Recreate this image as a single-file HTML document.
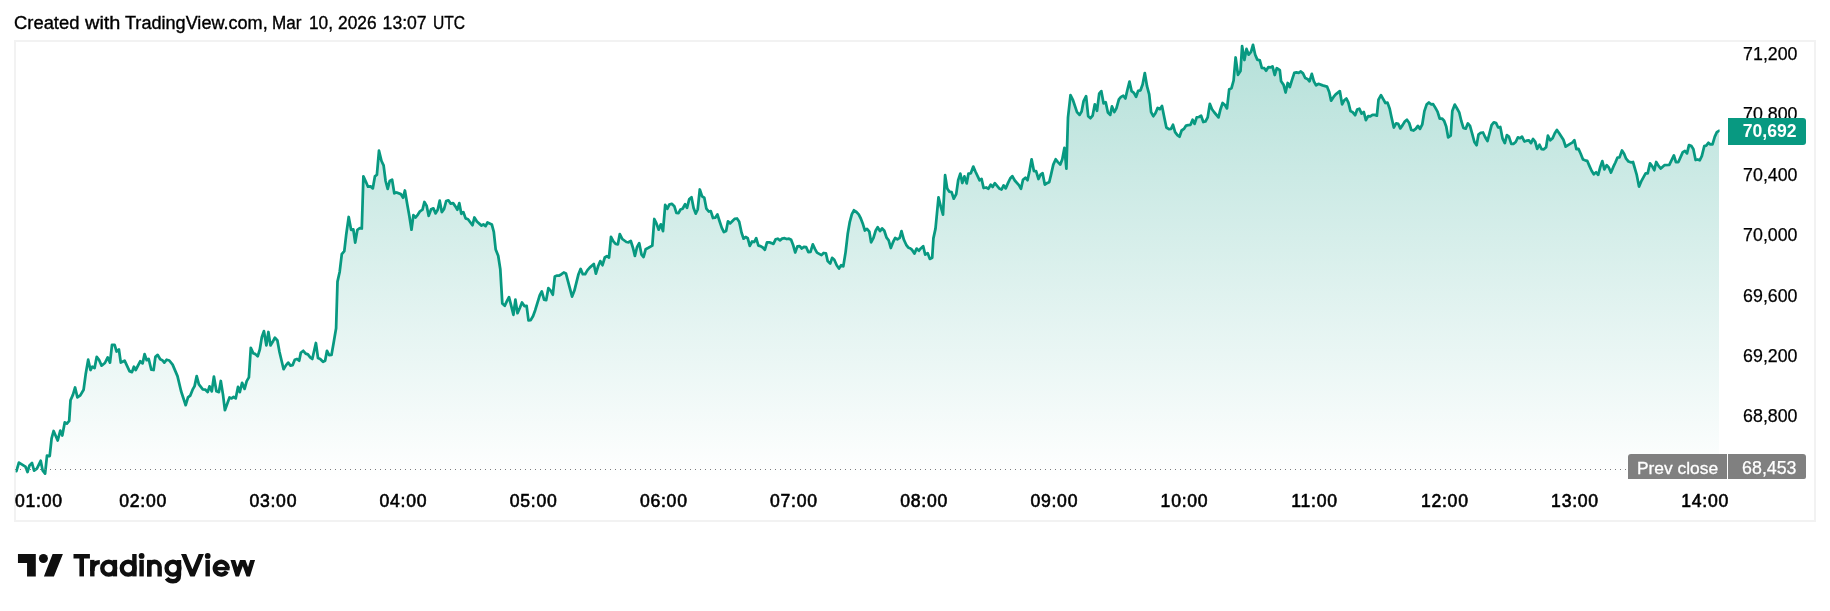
<!DOCTYPE html>
<html><head><meta charset="utf-8"><title>Chart</title>
<style>
html,body{margin:0;padding:0;background:#fff;}
body{width:1830px;height:611px;position:relative;overflow:hidden;font-family:"Liberation Sans",sans-serif;color:#131722;}
#hdr{filter:grayscale(1);position:absolute;left:0;top:12px;font-size:17.6px;line-height:22px;white-space:nowrap;color:#000;}
#hdr span{position:absolute;top:0;transform-origin:0 0;white-space:nowrap;-webkit-text-stroke:0.35px #000;}
#box{position:absolute;left:14px;top:40px;width:1798px;height:478px;border:2px solid #f2f2f2;}
svg#ch{position:absolute;left:0;top:0;}
.pl{-webkit-text-stroke:0.25px #000;filter:grayscale(1);position:absolute;left:1728.5px;width:69px;text-align:right;font-size:17.8px;line-height:24px;height:24px;white-space:nowrap;color:#000;}
.tl{filter:grayscale(1);position:absolute;top:489px;width:80px;margin-left:-40px;text-align:center;font-size:17.6px;font-weight:normal;-webkit-text-stroke:0.6px #000;line-height:24px;white-space:nowrap;color:#000;letter-spacing:0.75px;}
#cur{position:absolute;left:1728px;top:118px;width:78px;height:27px;background:#089981;border-radius:2px;color:#fff;font-weight:bold;font-size:17.6px;line-height:26px;text-align:right;box-sizing:border-box;padding-right:9.5px;border-radius:0 3px 3px 0;}
#pc1{position:absolute;left:1628px;top:454px;width:99px;height:25px;background:#808080;border-radius:3px 0 0 0;color:#fff;font-size:17.4px;line-height:28px;-webkit-text-stroke:0.3px #fff;text-align:center;white-space:nowrap;}
#pc2{position:absolute;left:1728px;top:454px;width:78px;height:25px;background:#808080;border-radius:0 3px 2px 0;color:#fff;font-size:17.8px;line-height:28px;-webkit-text-stroke:0.25px #fff;text-align:right;box-sizing:border-box;padding-right:9.5px;}
.g{display:inline-block;filter:grayscale(1);}
#logotxt{position:absolute;left:72px;top:547px;font-size:30px;font-weight:bold;line-height:36px;letter-spacing:0.2px;color:#131722;white-space:nowrap;}
</style></head><body>
<div id="hdr"><span style="left:14.46px;transform:scaleX(1.0450)">Created</span><span style="left:85.10px;transform:scaleX(1.1333)">with</span><span style="left:125.40px;transform:scaleX(1.0277)">TradingView.com,</span><span style="left:272.43px;transform:scaleX(0.9724)">Mar</span><span style="left:309.22px;transform:scaleX(0.9818)">10,</span><span style="left:338.32px;transform:scaleX(0.9838)">2026</span><span style="left:382.60px;transform:scaleX(1.0000)">13:07</span><span style="left:432.51px;transform:scaleX(0.8882)">UTC</span></div>
<div id="box"></div>
<svg id="ch" width="1830" height="611" viewBox="0 0 1830 611">
<defs><clipPath id="lc"><rect x="15.6" y="40" width="1704" height="445"/></clipPath><linearGradient id="g" gradientUnits="userSpaceOnUse" x1="0" y1="42" x2="0" y2="481">
<stop offset="0" stop-color="#089981" stop-opacity="0.30"/><stop offset="1" stop-color="#089981" stop-opacity="0"/></linearGradient></defs>
<path d="M16.4,471.1 L18.9,462.6 L25.4,466.6 L27.5,472.0 L29.5,465.4 L32.0,463.0 L34.1,470.7 L36.9,468.7 L40.7,460.8 L42.6,470.3 L45.1,473.6 L47.0,455.6 L49.7,456.1 L51.6,438.4 L53.6,431.0 L57.7,440.5 L60.3,430.7 L62.3,435.6 L64.8,422.3 L66.9,423.6 L69.2,420.8 L70.5,400.3 L73.0,394.6 L75.1,387.5 L77.4,397.4 L80.3,395.4 L83.6,389.7 L85.7,374.1 L88.2,359.7 L90.5,370.0 L92.3,366.7 L94.6,368.0 L96.7,356.9 L99.2,360.2 L101.6,365.6 L104.9,363.0 L107.7,357.4 L110.0,362.6 L112.0,344.9 L114.6,344.9 L116.6,351.5 L118.9,349.5 L120.8,362.6 L124.6,360.7 L129.5,371.1 L132.0,372.1 L133.9,366.7 L135.7,370.0 L140.2,361.3 L142.6,363.4 L144.6,354.1 L146.7,360.2 L148.7,359.0 L151.3,369.7 L153.6,370.0 L155.4,356.9 L157.7,354.9 L160.2,359.3 L162.3,360.2 L164.3,362.6 L166.7,359.7 L169.3,360.5 L172.6,364.6 L177.5,376.1 L181.1,391.3 L185.7,405.2 L188.0,397.4 L190.2,395.7 L192.6,389.7 L194.6,386.1 L196.7,376.1 L198.9,384.4 L202.8,389.3 L205.4,389.7 L207.7,392.1 L209.5,386.4 L211.8,391.3 L213.9,376.6 L216.4,391.3 L218.9,392.1 L220.8,381.0 L223.0,394.6 L224.9,410.2 L229.5,397.5 L231.6,398.4 L233.6,397.0 L235.7,398.4 L238.0,386.9 L239.8,392.1 L242.1,382.8 L244.6,388.9 L246.7,381.1 L248.9,377.4 L250.8,347.9 L253.3,353.3 L255.4,354.1 L257.7,356.4 L259.8,349.5 L261.8,337.2 L263.9,331.1 L266.4,345.4 L268.4,332.0 L270.5,345.4 L272.6,342.1 L274.9,337.7 L277.4,340.5 L279.5,352.0 L283.6,369.2 L286.1,365.1 L288.2,362.6 L290.5,365.6 L292.6,365.1 L294.8,359.8 L297.0,359.0 L299.2,360.7 L300.8,352.8 L303.3,350.8 L305.7,353.6 L307.9,354.4 L310.2,357.4 L312.3,359.0 L315.9,343.0 L318.0,358.0 L320.2,359.0 L323.0,361.8 L325.1,360.7 L327.0,350.8 L329.2,355.2 L331.5,354.9 L333.6,343.0 L336.1,328.2 L337.5,281.6 L339.7,271.7 L341.8,254.2 L344.3,251.2 L346.2,234.8 L348.7,217.0 L351.1,229.8 L353.3,229.3 L355.2,242.6 L357.4,229.8 L359.8,228.2 L361.8,228.5 L363.4,176.4 L365.9,181.8 L368.0,186.7 L370.5,186.4 L372.8,188.4 L374.9,176.4 L376.9,174.8 L379.0,150.7 L381.5,161.0 L383.6,165.4 L385.6,181.0 L387.7,188.9 L389.7,181.0 L392.1,179.7 L394.3,193.3 L396.7,192.5 L400.8,194.1 L403.1,197.7 L404.9,190.5 L407.2,203.9 L409.3,215.7 L411.5,229.7 L413.4,215.1 L415.6,217.5 L417.9,214.6 L420.0,211.3 L422.5,209.7 L424.4,202.0 L426.6,205.6 L428.7,215.9 L431.1,209.3 L433.4,208.4 L435.6,213.4 L437.7,209.7 L439.7,200.7 L441.8,212.1 L444.1,208.9 L446.2,201.0 L448.4,200.3 L450.7,203.6 L453.1,203.1 L455.2,206.1 L457.4,209.7 L459.3,203.1 L461.3,213.8 L463.4,212.1 L465.6,218.4 L468.0,219.2 L472.5,225.2 L474.4,217.5 L476.9,221.5 L481.5,225.6 L483.4,224.4 L485.6,226.1 L487.5,222.5 L491.8,224.4 L493.8,231.8 L495.7,249.6 L498.2,255.8 L500.3,269.3 L502.3,303.4 L504.8,305.7 L506.9,301.2 L509.0,297.1 L511.3,306.1 L513.4,314.8 L515.4,299.6 L517.5,313.2 L519.7,308.3 L522.0,302.5 L524.4,306.1 L526.6,305.8 L528.5,320.4 L530.7,320.1 L533.1,316.0 L535.2,310.2 L539.7,295.5 L541.8,291.4 L544.1,299.6 L546.2,300.1 L548.4,288.1 L550.7,290.6 L552.8,294.7 L554.8,276.6 L557.2,275.5 L559.3,275.5 L561.5,274.2 L563.8,272.5 L565.9,273.4 L572.1,296.6 L574.4,290.6 L578.5,274.2 L580.7,268.9 L582.8,274.2 L585.1,274.2 L587.5,270.1 L589.7,267.6 L593.8,264.0 L595.9,273.7 L598.2,266.0 L600.3,261.1 L602.5,265.2 L604.8,257.5 L606.9,256.1 L609.0,257.5 L611.0,236.8 L613.4,241.4 L615.6,243.9 L617.9,244.3 L619.8,234.1 L622.3,239.0 L626.4,242.0 L628.5,242.3 L630.8,241.0 L633.0,248.0 L634.9,255.9 L637.0,247.2 L639.2,243.1 L641.5,254.6 L643.6,257.0 L645.7,249.2 L648.0,248.0 L652.3,245.6 L654.3,219.0 L656.4,223.4 L658.7,229.7 L660.8,224.3 L663.0,231.1 L665.2,204.9 L667.4,208.7 L669.3,204.6 L671.8,203.8 L674.3,206.2 L676.4,212.8 L678.5,213.1 L680.5,209.5 L682.6,208.7 L685.1,204.3 L687.0,207.9 L689.2,199.3 L691.5,197.2 L693.6,207.9 L695.7,213.6 L697.7,209.5 L699.8,189.5 L702.1,196.4 L704.3,197.7 L706.4,208.7 L708.7,211.5 L710.8,211.1 L713.0,218.0 L715.2,217.7 L717.4,214.4 L719.5,221.0 L721.8,227.9 L723.9,232.1 L726.1,231.1 L728.0,221.3 L730.2,223.4 L732.5,221.0 L734.6,218.9 L737.0,218.5 L739.2,221.8 L741.5,232.5 L743.6,238.7 L745.7,237.0 L747.7,238.2 L749.8,245.9 L752.1,241.5 L754.3,242.0 L756.2,238.2 L758.4,245.6 L760.5,246.1 L762.8,247.5 L764.9,249.7 L767.0,242.3 L769.3,242.3 L771.5,243.1 L773.4,243.9 L775.6,239.3 L777.7,238.7 L780.0,240.3 L782.1,238.7 L784.6,238.2 L786.7,239.0 L789.0,238.7 L791.1,239.8 L793.3,245.6 L795.2,252.5 L797.4,246.4 L799.7,246.1 L801.8,248.5 L803.9,246.9 L806.2,247.2 L808.4,252.1 L810.5,251.8 L812.8,244.3 L814.9,248.9 L817.0,252.6 L821.5,255.1 L823.6,253.0 L825.9,253.3 L827.7,261.1 L830.2,263.6 L832.1,257.9 L834.3,259.8 L836.7,265.2 L839.0,268.5 L841.1,265.2 L843.3,266.4 L845.6,252.1 L847.7,234.1 L849.8,221.8 L851.8,214.4 L853.9,210.3 L856.4,212.0 L858.7,214.4 L860.8,218.5 L863.0,224.3 L864.9,230.5 L867.0,228.9 L869.3,231.6 L871.1,242.3 L873.4,238.2 L875.6,230.8 L877.7,227.2 L880.0,231.1 L882.1,228.4 L884.3,230.8 L886.6,237.7 L888.7,240.3 L890.8,248.0 L893.1,242.0 L895.2,237.9 L897.4,239.3 L899.7,237.9 L901.5,231.1 L903.9,239.8 L906.2,244.8 L908.4,247.7 L910.1,248.2 L912.1,249.9 L914.4,253.6 L916.6,248.6 L918.9,250.7 L921.0,248.2 L923.2,246.2 L925.2,254.6 L927.7,253.1 L929.8,258.9 L932.2,257.7 L933.4,238.4 L935.5,228.6 L938.5,197.4 L940.7,206.4 L943.0,214.6 L945.1,175.2 L947.2,188.4 L949.2,191.6 L951.6,192.1 L953.8,198.7 L956.2,194.1 L958.2,180.2 L960.3,173.6 L962.3,183.0 L964.4,176.4 L966.7,183.4 L968.5,173.6 L970.8,173.3 L973.3,166.6 L975.4,171.5 L979.5,180.2 L981.6,179.0 L983.6,188.0 L986.1,187.5 L988.5,188.7 L990.7,184.6 L992.6,187.0 L994.8,183.1 L999.2,188.4 L1001.6,189.5 L1003.6,185.4 L1005.7,188.4 L1008.2,182.6 L1010.2,178.5 L1012.3,176.1 L1014.8,180.5 L1018.9,185.1 L1021.0,188.7 L1023.0,179.8 L1025.4,177.7 L1027.5,180.2 L1029.5,171.1 L1031.6,159.3 L1033.9,171.1 L1036.1,171.1 L1038.5,179.0 L1040.7,174.4 L1042.6,173.3 L1044.8,184.6 L1047.0,183.1 L1049.2,182.3 L1051.1,174.4 L1053.3,164.6 L1055.7,159.3 L1057.9,162.1 L1060.3,164.6 L1062.3,159.3 L1064.4,147.9 L1066.4,168.7 L1068.0,117.4 L1070.5,95.2 L1073.0,100.2 L1077.0,112.1 L1079.5,114.9 L1081.6,111.6 L1083.6,101.0 L1086.1,96.1 L1088.2,116.2 L1090.5,118.2 L1092.6,115.7 L1094.8,104.3 L1097.0,110.8 L1099.2,93.6 L1101.3,91.1 L1103.6,103.4 L1105.7,102.3 L1107.9,112.5 L1110.2,114.9 L1112.0,106.4 L1114.3,112.1 L1116.4,108.4 L1118.9,99.3 L1121.0,96.9 L1123.3,95.7 L1125.4,98.5 L1127.5,89.5 L1129.5,81.6 L1131.6,91.1 L1133.9,92.8 L1136.1,96.9 L1138.2,90.8 L1140.5,90.3 L1142.6,84.6 L1144.8,73.1 L1147.0,86.2 L1149.2,94.4 L1151.1,112.1 L1153.3,116.2 L1155.4,113.3 L1157.7,107.9 L1159.8,109.2 L1162.0,105.9 L1164.3,117.4 L1166.4,127.5 L1168.9,129.2 L1171.0,128.9 L1173.0,124.8 L1175.1,132.1 L1177.4,135.1 L1179.5,136.7 L1181.6,130.5 L1183.9,128.9 L1186.1,125.6 L1188.2,125.2 L1190.5,124.8 L1192.6,119.8 L1194.6,123.9 L1196.7,117.4 L1198.9,117.0 L1201.1,115.7 L1203.3,122.0 L1205.4,121.5 L1207.7,117.4 L1209.8,103.9 L1212.0,109.2 L1214.4,112.5 L1218.5,117.4 L1220.5,109.2 L1222.6,103.0 L1224.9,105.1 L1227.0,108.4 L1229.2,89.2 L1231.5,88.2 L1233.6,80.5 L1235.6,57.5 L1238.0,74.8 L1240.5,71.1 L1242.1,46.1 L1244.4,60.0 L1246.5,48.9 L1248.7,54.7 L1251.0,51.8 L1253.0,44.8 L1255.2,54.7 L1257.3,59.6 L1259.8,60.4 L1261.8,67.8 L1264.3,68.2 L1266.1,70.7 L1268.4,67.1 L1270.4,67.4 L1272.5,66.4 L1274.7,75.0 L1276.8,68.2 L1279.8,70.2 L1281.1,81.3 L1283.6,84.9 L1285.6,92.5 L1287.7,83.0 L1289.8,87.0 L1292.1,79.7 L1294.3,72.8 L1296.4,72.3 L1298.7,72.8 L1300.8,71.5 L1303.0,73.4 L1305.2,78.0 L1307.4,78.9 L1309.5,81.3 L1311.8,73.9 L1313.9,81.3 L1316.1,85.4 L1318.4,83.8 L1322.6,85.4 L1327.0,86.6 L1329.2,92.0 L1331.1,100.7 L1333.6,96.9 L1335.7,94.4 L1339.8,91.1 L1342.1,104.3 L1344.3,100.2 L1346.4,98.5 L1348.4,102.6 L1350.5,111.1 L1352.8,112.3 L1355.1,115.2 L1357.2,109.5 L1359.3,108.7 L1361.6,113.6 L1363.8,112.0 L1365.9,120.2 L1368.2,116.1 L1370.3,116.4 L1372.5,114.9 L1374.8,114.9 L1376.9,115.7 L1378.5,99.7 L1381.0,95.2 L1383.1,98.9 L1385.4,103.0 L1387.5,102.6 L1389.7,108.7 L1391.6,117.7 L1393.8,127.5 L1396.1,123.4 L1398.2,123.9 L1400.3,128.4 L1402.6,125.1 L1404.8,121.5 L1406.9,119.7 L1409.2,123.0 L1411.3,130.0 L1413.4,130.5 L1415.7,128.9 L1417.9,125.9 L1420.0,128.9 L1422.3,124.3 L1424.4,111.1 L1426.6,104.6 L1428.9,102.5 L1431.0,104.3 L1433.1,104.1 L1435.4,107.9 L1437.5,111.6 L1439.7,118.5 L1442.0,118.5 L1444.1,120.7 L1446.2,126.4 L1448.2,137.4 L1450.7,135.7 L1452.3,111.1 L1454.8,104.6 L1456.9,108.2 L1459.2,112.3 L1461.3,121.0 L1463.4,127.9 L1465.7,128.7 L1467.9,123.4 L1470.0,125.9 L1472.3,134.1 L1474.4,142.0 L1476.6,145.2 L1478.5,134.6 L1480.7,132.8 L1483.0,132.5 L1485.1,137.0 L1487.5,141.0 L1489.5,133.3 L1491.6,125.1 L1493.8,122.3 L1496.1,123.1 L1498.2,127.5 L1500.3,127.0 L1502.6,138.7 L1504.8,143.1 L1506.9,135.2 L1508.9,136.6 L1511.3,143.9 L1513.4,143.9 L1515.7,142.0 L1517.9,137.4 L1520.0,138.2 L1522.0,136.6 L1524.4,141.5 L1526.6,140.7 L1528.9,140.3 L1531.0,143.1 L1533.1,139.0 L1535.1,141.5 L1537.2,148.9 L1539.5,144.8 L1541.6,149.2 L1543.8,149.3 L1546.1,147.2 L1547.9,135.7 L1550.3,140.3 L1552.6,138.2 L1554.8,133.3 L1556.9,130.0 L1559.2,133.3 L1563.4,139.8 L1565.7,146.7 L1570.0,143.9 L1572.3,142.6 L1574.4,140.3 L1576.4,149.2 L1578.5,148.9 L1580.7,153.8 L1583.0,159.5 L1585.1,160.3 L1587.2,160.8 L1589.5,166.1 L1591.6,170.7 L1593.8,174.3 L1596.1,172.3 L1598.2,174.8 L1600.3,166.9 L1602.3,161.1 L1604.4,169.3 L1606.7,165.2 L1608.9,167.7 L1611.0,172.6 L1613.3,166.9 L1615.4,162.5 L1617.5,157.5 L1619.5,157.4 L1622.0,150.5 L1624.1,153.8 L1626.1,158.7 L1628.5,161.5 L1630.7,162.3 L1633.0,162.0 L1636.6,174.3 L1639.0,186.6 L1641.5,180.8 L1645.6,173.4 L1647.7,173.4 L1650.0,163.3 L1652.1,166.1 L1654.3,170.2 L1656.2,162.0 L1658.7,166.1 L1660.8,168.5 L1664.4,165.2 L1669.3,164.9 L1673.9,155.4 L1675.9,162.0 L1678.4,162.0 L1682.8,152.1 L1684.9,151.0 L1687.0,153.4 L1689.0,145.1 L1691.5,146.1 L1693.4,149.3 L1695.6,160.0 L1697.7,159.5 L1699.7,160.3 L1701.8,156.2 L1704.3,146.1 L1706.2,145.6 L1708.4,142.8 L1710.3,144.4 L1712.5,144.4 L1714.8,136.6 L1716.9,132.1 L1719.0,130.8 L1719.0,481 L16.4,481 Z" fill="url(#g)" stroke="none"/>
<path d="M16.4,471.1 L18.9,462.6 L25.4,466.6 L27.5,472.0 L29.5,465.4 L32.0,463.0 L34.1,470.7 L36.9,468.7 L40.7,460.8 L42.6,470.3 L45.1,473.6 L47.0,455.6 L49.7,456.1 L51.6,438.4 L53.6,431.0 L57.7,440.5 L60.3,430.7 L62.3,435.6 L64.8,422.3 L66.9,423.6 L69.2,420.8 L70.5,400.3 L73.0,394.6 L75.1,387.5 L77.4,397.4 L80.3,395.4 L83.6,389.7 L85.7,374.1 L88.2,359.7 L90.5,370.0 L92.3,366.7 L94.6,368.0 L96.7,356.9 L99.2,360.2 L101.6,365.6 L104.9,363.0 L107.7,357.4 L110.0,362.6 L112.0,344.9 L114.6,344.9 L116.6,351.5 L118.9,349.5 L120.8,362.6 L124.6,360.7 L129.5,371.1 L132.0,372.1 L133.9,366.7 L135.7,370.0 L140.2,361.3 L142.6,363.4 L144.6,354.1 L146.7,360.2 L148.7,359.0 L151.3,369.7 L153.6,370.0 L155.4,356.9 L157.7,354.9 L160.2,359.3 L162.3,360.2 L164.3,362.6 L166.7,359.7 L169.3,360.5 L172.6,364.6 L177.5,376.1 L181.1,391.3 L185.7,405.2 L188.0,397.4 L190.2,395.7 L192.6,389.7 L194.6,386.1 L196.7,376.1 L198.9,384.4 L202.8,389.3 L205.4,389.7 L207.7,392.1 L209.5,386.4 L211.8,391.3 L213.9,376.6 L216.4,391.3 L218.9,392.1 L220.8,381.0 L223.0,394.6 L224.9,410.2 L229.5,397.5 L231.6,398.4 L233.6,397.0 L235.7,398.4 L238.0,386.9 L239.8,392.1 L242.1,382.8 L244.6,388.9 L246.7,381.1 L248.9,377.4 L250.8,347.9 L253.3,353.3 L255.4,354.1 L257.7,356.4 L259.8,349.5 L261.8,337.2 L263.9,331.1 L266.4,345.4 L268.4,332.0 L270.5,345.4 L272.6,342.1 L274.9,337.7 L277.4,340.5 L279.5,352.0 L283.6,369.2 L286.1,365.1 L288.2,362.6 L290.5,365.6 L292.6,365.1 L294.8,359.8 L297.0,359.0 L299.2,360.7 L300.8,352.8 L303.3,350.8 L305.7,353.6 L307.9,354.4 L310.2,357.4 L312.3,359.0 L315.9,343.0 L318.0,358.0 L320.2,359.0 L323.0,361.8 L325.1,360.7 L327.0,350.8 L329.2,355.2 L331.5,354.9 L333.6,343.0 L336.1,328.2 L337.5,281.6 L339.7,271.7 L341.8,254.2 L344.3,251.2 L346.2,234.8 L348.7,217.0 L351.1,229.8 L353.3,229.3 L355.2,242.6 L357.4,229.8 L359.8,228.2 L361.8,228.5 L363.4,176.4 L365.9,181.8 L368.0,186.7 L370.5,186.4 L372.8,188.4 L374.9,176.4 L376.9,174.8 L379.0,150.7 L381.5,161.0 L383.6,165.4 L385.6,181.0 L387.7,188.9 L389.7,181.0 L392.1,179.7 L394.3,193.3 L396.7,192.5 L400.8,194.1 L403.1,197.7 L404.9,190.5 L407.2,203.9 L409.3,215.7 L411.5,229.7 L413.4,215.1 L415.6,217.5 L417.9,214.6 L420.0,211.3 L422.5,209.7 L424.4,202.0 L426.6,205.6 L428.7,215.9 L431.1,209.3 L433.4,208.4 L435.6,213.4 L437.7,209.7 L439.7,200.7 L441.8,212.1 L444.1,208.9 L446.2,201.0 L448.4,200.3 L450.7,203.6 L453.1,203.1 L455.2,206.1 L457.4,209.7 L459.3,203.1 L461.3,213.8 L463.4,212.1 L465.6,218.4 L468.0,219.2 L472.5,225.2 L474.4,217.5 L476.9,221.5 L481.5,225.6 L483.4,224.4 L485.6,226.1 L487.5,222.5 L491.8,224.4 L493.8,231.8 L495.7,249.6 L498.2,255.8 L500.3,269.3 L502.3,303.4 L504.8,305.7 L506.9,301.2 L509.0,297.1 L511.3,306.1 L513.4,314.8 L515.4,299.6 L517.5,313.2 L519.7,308.3 L522.0,302.5 L524.4,306.1 L526.6,305.8 L528.5,320.4 L530.7,320.1 L533.1,316.0 L535.2,310.2 L539.7,295.5 L541.8,291.4 L544.1,299.6 L546.2,300.1 L548.4,288.1 L550.7,290.6 L552.8,294.7 L554.8,276.6 L557.2,275.5 L559.3,275.5 L561.5,274.2 L563.8,272.5 L565.9,273.4 L572.1,296.6 L574.4,290.6 L578.5,274.2 L580.7,268.9 L582.8,274.2 L585.1,274.2 L587.5,270.1 L589.7,267.6 L593.8,264.0 L595.9,273.7 L598.2,266.0 L600.3,261.1 L602.5,265.2 L604.8,257.5 L606.9,256.1 L609.0,257.5 L611.0,236.8 L613.4,241.4 L615.6,243.9 L617.9,244.3 L619.8,234.1 L622.3,239.0 L626.4,242.0 L628.5,242.3 L630.8,241.0 L633.0,248.0 L634.9,255.9 L637.0,247.2 L639.2,243.1 L641.5,254.6 L643.6,257.0 L645.7,249.2 L648.0,248.0 L652.3,245.6 L654.3,219.0 L656.4,223.4 L658.7,229.7 L660.8,224.3 L663.0,231.1 L665.2,204.9 L667.4,208.7 L669.3,204.6 L671.8,203.8 L674.3,206.2 L676.4,212.8 L678.5,213.1 L680.5,209.5 L682.6,208.7 L685.1,204.3 L687.0,207.9 L689.2,199.3 L691.5,197.2 L693.6,207.9 L695.7,213.6 L697.7,209.5 L699.8,189.5 L702.1,196.4 L704.3,197.7 L706.4,208.7 L708.7,211.5 L710.8,211.1 L713.0,218.0 L715.2,217.7 L717.4,214.4 L719.5,221.0 L721.8,227.9 L723.9,232.1 L726.1,231.1 L728.0,221.3 L730.2,223.4 L732.5,221.0 L734.6,218.9 L737.0,218.5 L739.2,221.8 L741.5,232.5 L743.6,238.7 L745.7,237.0 L747.7,238.2 L749.8,245.9 L752.1,241.5 L754.3,242.0 L756.2,238.2 L758.4,245.6 L760.5,246.1 L762.8,247.5 L764.9,249.7 L767.0,242.3 L769.3,242.3 L771.5,243.1 L773.4,243.9 L775.6,239.3 L777.7,238.7 L780.0,240.3 L782.1,238.7 L784.6,238.2 L786.7,239.0 L789.0,238.7 L791.1,239.8 L793.3,245.6 L795.2,252.5 L797.4,246.4 L799.7,246.1 L801.8,248.5 L803.9,246.9 L806.2,247.2 L808.4,252.1 L810.5,251.8 L812.8,244.3 L814.9,248.9 L817.0,252.6 L821.5,255.1 L823.6,253.0 L825.9,253.3 L827.7,261.1 L830.2,263.6 L832.1,257.9 L834.3,259.8 L836.7,265.2 L839.0,268.5 L841.1,265.2 L843.3,266.4 L845.6,252.1 L847.7,234.1 L849.8,221.8 L851.8,214.4 L853.9,210.3 L856.4,212.0 L858.7,214.4 L860.8,218.5 L863.0,224.3 L864.9,230.5 L867.0,228.9 L869.3,231.6 L871.1,242.3 L873.4,238.2 L875.6,230.8 L877.7,227.2 L880.0,231.1 L882.1,228.4 L884.3,230.8 L886.6,237.7 L888.7,240.3 L890.8,248.0 L893.1,242.0 L895.2,237.9 L897.4,239.3 L899.7,237.9 L901.5,231.1 L903.9,239.8 L906.2,244.8 L908.4,247.7 L910.1,248.2 L912.1,249.9 L914.4,253.6 L916.6,248.6 L918.9,250.7 L921.0,248.2 L923.2,246.2 L925.2,254.6 L927.7,253.1 L929.8,258.9 L932.2,257.7 L933.4,238.4 L935.5,228.6 L938.5,197.4 L940.7,206.4 L943.0,214.6 L945.1,175.2 L947.2,188.4 L949.2,191.6 L951.6,192.1 L953.8,198.7 L956.2,194.1 L958.2,180.2 L960.3,173.6 L962.3,183.0 L964.4,176.4 L966.7,183.4 L968.5,173.6 L970.8,173.3 L973.3,166.6 L975.4,171.5 L979.5,180.2 L981.6,179.0 L983.6,188.0 L986.1,187.5 L988.5,188.7 L990.7,184.6 L992.6,187.0 L994.8,183.1 L999.2,188.4 L1001.6,189.5 L1003.6,185.4 L1005.7,188.4 L1008.2,182.6 L1010.2,178.5 L1012.3,176.1 L1014.8,180.5 L1018.9,185.1 L1021.0,188.7 L1023.0,179.8 L1025.4,177.7 L1027.5,180.2 L1029.5,171.1 L1031.6,159.3 L1033.9,171.1 L1036.1,171.1 L1038.5,179.0 L1040.7,174.4 L1042.6,173.3 L1044.8,184.6 L1047.0,183.1 L1049.2,182.3 L1051.1,174.4 L1053.3,164.6 L1055.7,159.3 L1057.9,162.1 L1060.3,164.6 L1062.3,159.3 L1064.4,147.9 L1066.4,168.7 L1068.0,117.4 L1070.5,95.2 L1073.0,100.2 L1077.0,112.1 L1079.5,114.9 L1081.6,111.6 L1083.6,101.0 L1086.1,96.1 L1088.2,116.2 L1090.5,118.2 L1092.6,115.7 L1094.8,104.3 L1097.0,110.8 L1099.2,93.6 L1101.3,91.1 L1103.6,103.4 L1105.7,102.3 L1107.9,112.5 L1110.2,114.9 L1112.0,106.4 L1114.3,112.1 L1116.4,108.4 L1118.9,99.3 L1121.0,96.9 L1123.3,95.7 L1125.4,98.5 L1127.5,89.5 L1129.5,81.6 L1131.6,91.1 L1133.9,92.8 L1136.1,96.9 L1138.2,90.8 L1140.5,90.3 L1142.6,84.6 L1144.8,73.1 L1147.0,86.2 L1149.2,94.4 L1151.1,112.1 L1153.3,116.2 L1155.4,113.3 L1157.7,107.9 L1159.8,109.2 L1162.0,105.9 L1164.3,117.4 L1166.4,127.5 L1168.9,129.2 L1171.0,128.9 L1173.0,124.8 L1175.1,132.1 L1177.4,135.1 L1179.5,136.7 L1181.6,130.5 L1183.9,128.9 L1186.1,125.6 L1188.2,125.2 L1190.5,124.8 L1192.6,119.8 L1194.6,123.9 L1196.7,117.4 L1198.9,117.0 L1201.1,115.7 L1203.3,122.0 L1205.4,121.5 L1207.7,117.4 L1209.8,103.9 L1212.0,109.2 L1214.4,112.5 L1218.5,117.4 L1220.5,109.2 L1222.6,103.0 L1224.9,105.1 L1227.0,108.4 L1229.2,89.2 L1231.5,88.2 L1233.6,80.5 L1235.6,57.5 L1238.0,74.8 L1240.5,71.1 L1242.1,46.1 L1244.4,60.0 L1246.5,48.9 L1248.7,54.7 L1251.0,51.8 L1253.0,44.8 L1255.2,54.7 L1257.3,59.6 L1259.8,60.4 L1261.8,67.8 L1264.3,68.2 L1266.1,70.7 L1268.4,67.1 L1270.4,67.4 L1272.5,66.4 L1274.7,75.0 L1276.8,68.2 L1279.8,70.2 L1281.1,81.3 L1283.6,84.9 L1285.6,92.5 L1287.7,83.0 L1289.8,87.0 L1292.1,79.7 L1294.3,72.8 L1296.4,72.3 L1298.7,72.8 L1300.8,71.5 L1303.0,73.4 L1305.2,78.0 L1307.4,78.9 L1309.5,81.3 L1311.8,73.9 L1313.9,81.3 L1316.1,85.4 L1318.4,83.8 L1322.6,85.4 L1327.0,86.6 L1329.2,92.0 L1331.1,100.7 L1333.6,96.9 L1335.7,94.4 L1339.8,91.1 L1342.1,104.3 L1344.3,100.2 L1346.4,98.5 L1348.4,102.6 L1350.5,111.1 L1352.8,112.3 L1355.1,115.2 L1357.2,109.5 L1359.3,108.7 L1361.6,113.6 L1363.8,112.0 L1365.9,120.2 L1368.2,116.1 L1370.3,116.4 L1372.5,114.9 L1374.8,114.9 L1376.9,115.7 L1378.5,99.7 L1381.0,95.2 L1383.1,98.9 L1385.4,103.0 L1387.5,102.6 L1389.7,108.7 L1391.6,117.7 L1393.8,127.5 L1396.1,123.4 L1398.2,123.9 L1400.3,128.4 L1402.6,125.1 L1404.8,121.5 L1406.9,119.7 L1409.2,123.0 L1411.3,130.0 L1413.4,130.5 L1415.7,128.9 L1417.9,125.9 L1420.0,128.9 L1422.3,124.3 L1424.4,111.1 L1426.6,104.6 L1428.9,102.5 L1431.0,104.3 L1433.1,104.1 L1435.4,107.9 L1437.5,111.6 L1439.7,118.5 L1442.0,118.5 L1444.1,120.7 L1446.2,126.4 L1448.2,137.4 L1450.7,135.7 L1452.3,111.1 L1454.8,104.6 L1456.9,108.2 L1459.2,112.3 L1461.3,121.0 L1463.4,127.9 L1465.7,128.7 L1467.9,123.4 L1470.0,125.9 L1472.3,134.1 L1474.4,142.0 L1476.6,145.2 L1478.5,134.6 L1480.7,132.8 L1483.0,132.5 L1485.1,137.0 L1487.5,141.0 L1489.5,133.3 L1491.6,125.1 L1493.8,122.3 L1496.1,123.1 L1498.2,127.5 L1500.3,127.0 L1502.6,138.7 L1504.8,143.1 L1506.9,135.2 L1508.9,136.6 L1511.3,143.9 L1513.4,143.9 L1515.7,142.0 L1517.9,137.4 L1520.0,138.2 L1522.0,136.6 L1524.4,141.5 L1526.6,140.7 L1528.9,140.3 L1531.0,143.1 L1533.1,139.0 L1535.1,141.5 L1537.2,148.9 L1539.5,144.8 L1541.6,149.2 L1543.8,149.3 L1546.1,147.2 L1547.9,135.7 L1550.3,140.3 L1552.6,138.2 L1554.8,133.3 L1556.9,130.0 L1559.2,133.3 L1563.4,139.8 L1565.7,146.7 L1570.0,143.9 L1572.3,142.6 L1574.4,140.3 L1576.4,149.2 L1578.5,148.9 L1580.7,153.8 L1583.0,159.5 L1585.1,160.3 L1587.2,160.8 L1589.5,166.1 L1591.6,170.7 L1593.8,174.3 L1596.1,172.3 L1598.2,174.8 L1600.3,166.9 L1602.3,161.1 L1604.4,169.3 L1606.7,165.2 L1608.9,167.7 L1611.0,172.6 L1613.3,166.9 L1615.4,162.5 L1617.5,157.5 L1619.5,157.4 L1622.0,150.5 L1624.1,153.8 L1626.1,158.7 L1628.5,161.5 L1630.7,162.3 L1633.0,162.0 L1636.6,174.3 L1639.0,186.6 L1641.5,180.8 L1645.6,173.4 L1647.7,173.4 L1650.0,163.3 L1652.1,166.1 L1654.3,170.2 L1656.2,162.0 L1658.7,166.1 L1660.8,168.5 L1664.4,165.2 L1669.3,164.9 L1673.9,155.4 L1675.9,162.0 L1678.4,162.0 L1682.8,152.1 L1684.9,151.0 L1687.0,153.4 L1689.0,145.1 L1691.5,146.1 L1693.4,149.3 L1695.6,160.0 L1697.7,159.5 L1699.7,160.3 L1701.8,156.2 L1704.3,146.1 L1706.2,145.6 L1708.4,142.8 L1710.3,144.4 L1712.5,144.4 L1714.8,136.6 L1716.9,132.1 L1719.0,130.8" fill="none" stroke="#089981" stroke-width="2.75" stroke-linejoin="round" stroke-linecap="round" clip-path="url(#lc)"/>
<g fill="#7c7c7c"><rect x="15" y="469" width="1" height="1"/><rect x="20" y="469" width="1" height="1"/><rect x="25" y="469" width="1" height="1"/><rect x="30" y="469" width="1" height="1"/><rect x="35" y="469" width="1" height="1"/><rect x="40" y="469" width="1" height="1"/><rect x="45" y="469" width="1" height="1"/><rect x="50" y="469" width="1" height="1"/><rect x="55" y="469" width="1" height="1"/><rect x="60" y="469" width="1" height="1"/><rect x="65" y="469" width="1" height="1"/><rect x="70" y="469" width="1" height="1"/><rect x="75" y="469" width="1" height="1"/><rect x="80" y="469" width="1" height="1"/><rect x="85" y="469" width="1" height="1"/><rect x="90" y="469" width="1" height="1"/><rect x="95" y="469" width="1" height="1"/><rect x="100" y="469" width="1" height="1"/><rect x="105" y="469" width="1" height="1"/><rect x="110" y="469" width="1" height="1"/><rect x="115" y="469" width="1" height="1"/><rect x="120" y="469" width="1" height="1"/><rect x="125" y="469" width="1" height="1"/><rect x="130" y="469" width="1" height="1"/><rect x="135" y="469" width="1" height="1"/><rect x="140" y="469" width="1" height="1"/><rect x="145" y="469" width="1" height="1"/><rect x="150" y="469" width="1" height="1"/><rect x="155" y="469" width="1" height="1"/><rect x="160" y="469" width="1" height="1"/><rect x="165" y="469" width="1" height="1"/><rect x="170" y="469" width="1" height="1"/><rect x="175" y="469" width="1" height="1"/><rect x="180" y="469" width="1" height="1"/><rect x="185" y="469" width="1" height="1"/><rect x="190" y="469" width="1" height="1"/><rect x="195" y="469" width="1" height="1"/><rect x="200" y="469" width="1" height="1"/><rect x="205" y="469" width="1" height="1"/><rect x="210" y="469" width="1" height="1"/><rect x="215" y="469" width="1" height="1"/><rect x="220" y="469" width="1" height="1"/><rect x="225" y="469" width="1" height="1"/><rect x="230" y="469" width="1" height="1"/><rect x="235" y="469" width="1" height="1"/><rect x="240" y="469" width="1" height="1"/><rect x="245" y="469" width="1" height="1"/><rect x="250" y="469" width="1" height="1"/><rect x="255" y="469" width="1" height="1"/><rect x="260" y="469" width="1" height="1"/><rect x="265" y="469" width="1" height="1"/><rect x="270" y="469" width="1" height="1"/><rect x="275" y="469" width="1" height="1"/><rect x="280" y="469" width="1" height="1"/><rect x="285" y="469" width="1" height="1"/><rect x="290" y="469" width="1" height="1"/><rect x="295" y="469" width="1" height="1"/><rect x="300" y="469" width="1" height="1"/><rect x="305" y="469" width="1" height="1"/><rect x="310" y="469" width="1" height="1"/><rect x="315" y="469" width="1" height="1"/><rect x="320" y="469" width="1" height="1"/><rect x="325" y="469" width="1" height="1"/><rect x="330" y="469" width="1" height="1"/><rect x="335" y="469" width="1" height="1"/><rect x="340" y="469" width="1" height="1"/><rect x="345" y="469" width="1" height="1"/><rect x="350" y="469" width="1" height="1"/><rect x="355" y="469" width="1" height="1"/><rect x="360" y="469" width="1" height="1"/><rect x="365" y="469" width="1" height="1"/><rect x="370" y="469" width="1" height="1"/><rect x="375" y="469" width="1" height="1"/><rect x="380" y="469" width="1" height="1"/><rect x="385" y="469" width="1" height="1"/><rect x="390" y="469" width="1" height="1"/><rect x="395" y="469" width="1" height="1"/><rect x="400" y="469" width="1" height="1"/><rect x="405" y="469" width="1" height="1"/><rect x="410" y="469" width="1" height="1"/><rect x="415" y="469" width="1" height="1"/><rect x="420" y="469" width="1" height="1"/><rect x="425" y="469" width="1" height="1"/><rect x="430" y="469" width="1" height="1"/><rect x="435" y="469" width="1" height="1"/><rect x="440" y="469" width="1" height="1"/><rect x="445" y="469" width="1" height="1"/><rect x="450" y="469" width="1" height="1"/><rect x="455" y="469" width="1" height="1"/><rect x="460" y="469" width="1" height="1"/><rect x="465" y="469" width="1" height="1"/><rect x="470" y="469" width="1" height="1"/><rect x="475" y="469" width="1" height="1"/><rect x="480" y="469" width="1" height="1"/><rect x="485" y="469" width="1" height="1"/><rect x="490" y="469" width="1" height="1"/><rect x="495" y="469" width="1" height="1"/><rect x="500" y="469" width="1" height="1"/><rect x="505" y="469" width="1" height="1"/><rect x="510" y="469" width="1" height="1"/><rect x="515" y="469" width="1" height="1"/><rect x="520" y="469" width="1" height="1"/><rect x="525" y="469" width="1" height="1"/><rect x="530" y="469" width="1" height="1"/><rect x="535" y="469" width="1" height="1"/><rect x="540" y="469" width="1" height="1"/><rect x="545" y="469" width="1" height="1"/><rect x="550" y="469" width="1" height="1"/><rect x="555" y="469" width="1" height="1"/><rect x="560" y="469" width="1" height="1"/><rect x="565" y="469" width="1" height="1"/><rect x="570" y="469" width="1" height="1"/><rect x="575" y="469" width="1" height="1"/><rect x="580" y="469" width="1" height="1"/><rect x="585" y="469" width="1" height="1"/><rect x="590" y="469" width="1" height="1"/><rect x="595" y="469" width="1" height="1"/><rect x="600" y="469" width="1" height="1"/><rect x="605" y="469" width="1" height="1"/><rect x="610" y="469" width="1" height="1"/><rect x="615" y="469" width="1" height="1"/><rect x="620" y="469" width="1" height="1"/><rect x="625" y="469" width="1" height="1"/><rect x="630" y="469" width="1" height="1"/><rect x="635" y="469" width="1" height="1"/><rect x="640" y="469" width="1" height="1"/><rect x="645" y="469" width="1" height="1"/><rect x="650" y="469" width="1" height="1"/><rect x="655" y="469" width="1" height="1"/><rect x="660" y="469" width="1" height="1"/><rect x="665" y="469" width="1" height="1"/><rect x="670" y="469" width="1" height="1"/><rect x="675" y="469" width="1" height="1"/><rect x="680" y="469" width="1" height="1"/><rect x="685" y="469" width="1" height="1"/><rect x="690" y="469" width="1" height="1"/><rect x="695" y="469" width="1" height="1"/><rect x="700" y="469" width="1" height="1"/><rect x="705" y="469" width="1" height="1"/><rect x="710" y="469" width="1" height="1"/><rect x="715" y="469" width="1" height="1"/><rect x="720" y="469" width="1" height="1"/><rect x="725" y="469" width="1" height="1"/><rect x="730" y="469" width="1" height="1"/><rect x="735" y="469" width="1" height="1"/><rect x="740" y="469" width="1" height="1"/><rect x="745" y="469" width="1" height="1"/><rect x="750" y="469" width="1" height="1"/><rect x="755" y="469" width="1" height="1"/><rect x="760" y="469" width="1" height="1"/><rect x="765" y="469" width="1" height="1"/><rect x="770" y="469" width="1" height="1"/><rect x="775" y="469" width="1" height="1"/><rect x="780" y="469" width="1" height="1"/><rect x="785" y="469" width="1" height="1"/><rect x="790" y="469" width="1" height="1"/><rect x="795" y="469" width="1" height="1"/><rect x="800" y="469" width="1" height="1"/><rect x="805" y="469" width="1" height="1"/><rect x="810" y="469" width="1" height="1"/><rect x="815" y="469" width="1" height="1"/><rect x="820" y="469" width="1" height="1"/><rect x="825" y="469" width="1" height="1"/><rect x="830" y="469" width="1" height="1"/><rect x="835" y="469" width="1" height="1"/><rect x="840" y="469" width="1" height="1"/><rect x="845" y="469" width="1" height="1"/><rect x="850" y="469" width="1" height="1"/><rect x="855" y="469" width="1" height="1"/><rect x="860" y="469" width="1" height="1"/><rect x="865" y="469" width="1" height="1"/><rect x="870" y="469" width="1" height="1"/><rect x="875" y="469" width="1" height="1"/><rect x="880" y="469" width="1" height="1"/><rect x="885" y="469" width="1" height="1"/><rect x="890" y="469" width="1" height="1"/><rect x="895" y="469" width="1" height="1"/><rect x="900" y="469" width="1" height="1"/><rect x="905" y="469" width="1" height="1"/><rect x="910" y="469" width="1" height="1"/><rect x="915" y="469" width="1" height="1"/><rect x="920" y="469" width="1" height="1"/><rect x="925" y="469" width="1" height="1"/><rect x="930" y="469" width="1" height="1"/><rect x="935" y="469" width="1" height="1"/><rect x="940" y="469" width="1" height="1"/><rect x="945" y="469" width="1" height="1"/><rect x="950" y="469" width="1" height="1"/><rect x="955" y="469" width="1" height="1"/><rect x="960" y="469" width="1" height="1"/><rect x="965" y="469" width="1" height="1"/><rect x="970" y="469" width="1" height="1"/><rect x="975" y="469" width="1" height="1"/><rect x="980" y="469" width="1" height="1"/><rect x="985" y="469" width="1" height="1"/><rect x="990" y="469" width="1" height="1"/><rect x="995" y="469" width="1" height="1"/><rect x="1000" y="469" width="1" height="1"/><rect x="1005" y="469" width="1" height="1"/><rect x="1010" y="469" width="1" height="1"/><rect x="1015" y="469" width="1" height="1"/><rect x="1020" y="469" width="1" height="1"/><rect x="1025" y="469" width="1" height="1"/><rect x="1030" y="469" width="1" height="1"/><rect x="1035" y="469" width="1" height="1"/><rect x="1040" y="469" width="1" height="1"/><rect x="1045" y="469" width="1" height="1"/><rect x="1050" y="469" width="1" height="1"/><rect x="1055" y="469" width="1" height="1"/><rect x="1060" y="469" width="1" height="1"/><rect x="1065" y="469" width="1" height="1"/><rect x="1070" y="469" width="1" height="1"/><rect x="1075" y="469" width="1" height="1"/><rect x="1080" y="469" width="1" height="1"/><rect x="1085" y="469" width="1" height="1"/><rect x="1090" y="469" width="1" height="1"/><rect x="1095" y="469" width="1" height="1"/><rect x="1100" y="469" width="1" height="1"/><rect x="1105" y="469" width="1" height="1"/><rect x="1110" y="469" width="1" height="1"/><rect x="1115" y="469" width="1" height="1"/><rect x="1120" y="469" width="1" height="1"/><rect x="1125" y="469" width="1" height="1"/><rect x="1130" y="469" width="1" height="1"/><rect x="1135" y="469" width="1" height="1"/><rect x="1140" y="469" width="1" height="1"/><rect x="1145" y="469" width="1" height="1"/><rect x="1150" y="469" width="1" height="1"/><rect x="1155" y="469" width="1" height="1"/><rect x="1160" y="469" width="1" height="1"/><rect x="1165" y="469" width="1" height="1"/><rect x="1170" y="469" width="1" height="1"/><rect x="1175" y="469" width="1" height="1"/><rect x="1180" y="469" width="1" height="1"/><rect x="1185" y="469" width="1" height="1"/><rect x="1190" y="469" width="1" height="1"/><rect x="1195" y="469" width="1" height="1"/><rect x="1200" y="469" width="1" height="1"/><rect x="1205" y="469" width="1" height="1"/><rect x="1210" y="469" width="1" height="1"/><rect x="1215" y="469" width="1" height="1"/><rect x="1220" y="469" width="1" height="1"/><rect x="1225" y="469" width="1" height="1"/><rect x="1230" y="469" width="1" height="1"/><rect x="1235" y="469" width="1" height="1"/><rect x="1240" y="469" width="1" height="1"/><rect x="1245" y="469" width="1" height="1"/><rect x="1250" y="469" width="1" height="1"/><rect x="1255" y="469" width="1" height="1"/><rect x="1260" y="469" width="1" height="1"/><rect x="1265" y="469" width="1" height="1"/><rect x="1270" y="469" width="1" height="1"/><rect x="1275" y="469" width="1" height="1"/><rect x="1280" y="469" width="1" height="1"/><rect x="1285" y="469" width="1" height="1"/><rect x="1290" y="469" width="1" height="1"/><rect x="1295" y="469" width="1" height="1"/><rect x="1300" y="469" width="1" height="1"/><rect x="1305" y="469" width="1" height="1"/><rect x="1310" y="469" width="1" height="1"/><rect x="1315" y="469" width="1" height="1"/><rect x="1320" y="469" width="1" height="1"/><rect x="1325" y="469" width="1" height="1"/><rect x="1330" y="469" width="1" height="1"/><rect x="1335" y="469" width="1" height="1"/><rect x="1340" y="469" width="1" height="1"/><rect x="1345" y="469" width="1" height="1"/><rect x="1350" y="469" width="1" height="1"/><rect x="1355" y="469" width="1" height="1"/><rect x="1360" y="469" width="1" height="1"/><rect x="1365" y="469" width="1" height="1"/><rect x="1370" y="469" width="1" height="1"/><rect x="1375" y="469" width="1" height="1"/><rect x="1380" y="469" width="1" height="1"/><rect x="1385" y="469" width="1" height="1"/><rect x="1390" y="469" width="1" height="1"/><rect x="1395" y="469" width="1" height="1"/><rect x="1400" y="469" width="1" height="1"/><rect x="1405" y="469" width="1" height="1"/><rect x="1410" y="469" width="1" height="1"/><rect x="1415" y="469" width="1" height="1"/><rect x="1420" y="469" width="1" height="1"/><rect x="1425" y="469" width="1" height="1"/><rect x="1430" y="469" width="1" height="1"/><rect x="1435" y="469" width="1" height="1"/><rect x="1440" y="469" width="1" height="1"/><rect x="1445" y="469" width="1" height="1"/><rect x="1450" y="469" width="1" height="1"/><rect x="1455" y="469" width="1" height="1"/><rect x="1460" y="469" width="1" height="1"/><rect x="1465" y="469" width="1" height="1"/><rect x="1470" y="469" width="1" height="1"/><rect x="1475" y="469" width="1" height="1"/><rect x="1480" y="469" width="1" height="1"/><rect x="1485" y="469" width="1" height="1"/><rect x="1490" y="469" width="1" height="1"/><rect x="1495" y="469" width="1" height="1"/><rect x="1500" y="469" width="1" height="1"/><rect x="1505" y="469" width="1" height="1"/><rect x="1510" y="469" width="1" height="1"/><rect x="1515" y="469" width="1" height="1"/><rect x="1520" y="469" width="1" height="1"/><rect x="1525" y="469" width="1" height="1"/><rect x="1530" y="469" width="1" height="1"/><rect x="1535" y="469" width="1" height="1"/><rect x="1540" y="469" width="1" height="1"/><rect x="1545" y="469" width="1" height="1"/><rect x="1550" y="469" width="1" height="1"/><rect x="1555" y="469" width="1" height="1"/><rect x="1560" y="469" width="1" height="1"/><rect x="1565" y="469" width="1" height="1"/><rect x="1570" y="469" width="1" height="1"/><rect x="1575" y="469" width="1" height="1"/><rect x="1580" y="469" width="1" height="1"/><rect x="1585" y="469" width="1" height="1"/><rect x="1590" y="469" width="1" height="1"/><rect x="1595" y="469" width="1" height="1"/><rect x="1600" y="469" width="1" height="1"/><rect x="1605" y="469" width="1" height="1"/><rect x="1610" y="469" width="1" height="1"/><rect x="1615" y="469" width="1" height="1"/><rect x="1620" y="469" width="1" height="1"/><rect x="1625" y="469" width="1" height="1"/></g>
</svg>
<div class="pl" style="top:42.0px">71,200</div><div class="pl" style="top:102.2px">70,800</div><div class="pl" style="top:163.3px">70,400</div><div class="pl" style="top:223.3px">70,000</div><div class="pl" style="top:283.7px">69,600</div><div class="pl" style="top:344.1px">69,200</div><div class="pl" style="top:404.2px">68,800</div>
<div class="tl" style="left:15px;width:auto;margin-left:0;text-align:left">01:00</div><div class="tl" style="left:143.1px">02:00</div><div class="tl" style="left:273.3px">03:00</div><div class="tl" style="left:403.4px">04:00</div><div class="tl" style="left:533.6px">05:00</div><div class="tl" style="left:663.8px">06:00</div><div class="tl" style="left:793.9px">07:00</div><div class="tl" style="left:924.1px">08:00</div><div class="tl" style="left:1054.3px">09:00</div><div class="tl" style="left:1184.5px">10:00</div><div class="tl" style="left:1314.6px">11:00</div><div class="tl" style="left:1444.8px">12:00</div><div class="tl" style="left:1575.0px">13:00</div><div class="tl" style="left:1705.1px">14:00</div>
<div id="cur"><span class="g">70,692</span></div>
<div id="pc1"><span class="g">Prev close</span></div>
<div id="pc2"><span class="g">68,453</span></div>
<svg id="logo" width="60" height="40" viewBox="10 545 60 40" style="position:absolute;left:10px;top:545px"><path d="M17.95,554 H35.8 V576.4 H27.05 V562.9 H17.95 Z M52.6,554 H62.9 L53.9,576.4 H43.9 Z" fill="#0f0f0f"/><circle cx="43.4" cy="558.45" r="4.5" fill="#0f0f0f"/></svg>
<svg id="wm" width="200" height="45" viewBox="70 545 200 45" style="position:absolute;left:70px;top:545px">
<defs><clipPath id="cx"><rect x="70" y="559.9" width="200" height="16.5"/></clipPath><clipPath id="cc"><rect x="70" y="554" width="200" height="22.4"/></clipPath></defs>
<g fill="#0f0f0f" stroke="none">
<rect x="73.5" y="554" width="16.4" height="4.5"/><rect x="79.4" y="554" width="4.6" height="22.4"/>
<rect x="90.1" y="559.9" width="4.4" height="16.5"/>
<rect x="112.7" y="559.9" width="4.4" height="16.5"/>
<rect x="132.2" y="554" width="4.4" height="22.4"/>
<rect x="147.0" y="559.9" width="4.4" height="16.5"/>
<rect x="139.4" y="559.9" width="4.4" height="16.5"/><circle cx="141.6" cy="555.9" r="2.9"/>
<rect x="205.5" y="559.9" width="4.4" height="16.5"/><circle cx="207.7" cy="555.9" r="2.9"/>
</g>
<g fill="none" stroke="#0f0f0f" stroke-width="4.4">
<path d="M92.3,571 C92.3,564.5 95,562.1 99.8,562.1"/>
<circle cx="108.7" cy="568.2" r="6.4"/>
<circle cx="128.2" cy="568.2" r="6.4"/>
<path d="M149.2,576.4 V567 a5.22,5.22 0 0 1 10.45,0 V576.4"/>
<circle cx="173.0" cy="568.2" r="6.4"/>
<path d="M179,559.9 V574.8 C179,579.3 176.6,581.3 173,581.3 C170.2,581.3 168,580.3 166.7,578.3"/>
<path d="M226.75,571.4 A6.4,6.4 0 1 1 227.6,568.2"/>
<path d="M216,568.6 H229.6" stroke-width="3.4"/>
<path d="M182.8,552 L192.45,575.7 L202.1,552" clip-path="url(#cc)" stroke-width="4.8" stroke-miterlimit="10"/>
<path d="M232.4,558.5 L237.3,574.4 L242.75,559.3 L248.2,574.4 L253.1,558.5" clip-path="url(#cx)" stroke-width="4.6" stroke-miterlimit="10"/>
</g></svg>
</body></html>
